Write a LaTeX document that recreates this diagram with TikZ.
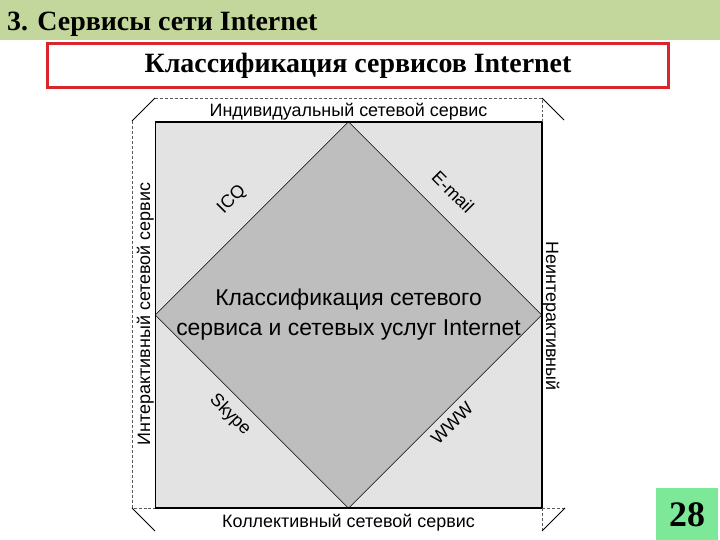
\documentclass[tikz,border=0pt]{standalone}
\usepackage{fontspec}
\setmainfont{Liberation Serif}
\newfontfamily\arialfont{Liberation Sans}
\usetikzlibrary{positioning}

\definecolor{barGreen}{HTML}{C3D69B}
\definecolor{pageGreen}{HTML}{7DE898}
\definecolor{frameRed}{HTML}{D9262C}
\definecolor{lightGray}{HTML}{E3E3E3}
\definecolor{darkGray}{HTML}{BEBEBE}

\begin{document}
\begin{tikzpicture}[x=1bp,y=-1bp,
  lbl/.style={font=\arialfont\fontsize{18}{21}\selectfont,inner sep=0pt},
  flap/.style={densely dashed,black!65,line width=0.6bp},
  cut/.style={black,line width=0.8bp}]
  \useasboundingbox[fill=white] (0,0) rectangle (720,540);
  \fill[barGreen] (0,0) rectangle (720,40);
  \node[anchor=base west,inner sep=0pt,font=\bfseries\fontsize{28}{32}\selectfont] (title) at (7,31) {3. Сервисы сети Internet};
  \node[draw=frameRed,line width=3bp,minimum width=620bp,minimum height=44bp,
        font=\bfseries\fontsize{28}{32}\selectfont] (head) at (358,66) {Классификация сервисов Internet};

  \node[fill=lightGray,minimum size=386bp,inner sep=0pt] (sq) at (348.5,315) {};
  \filldraw[fill=darkGray,draw=black,line width=0.5bp] (sq.north) -- (sq.east) -- (sq.south) -- (sq.west) -- cycle;
  \draw[line width=1.6bp] (sq.north west) rectangle (sq.south east);

  \draw[flap] (155,98) -- (542,98) -- (542,122);
  \draw[flap] (132,121) -- (132,508) -- (155,508);
  \draw[flap] (542,508) -- (565,508);
  \draw[flap] (542,508) -- (542,531);
  \draw[cut] (132,121) -- (155,98);
  \draw[cut] (542,98) -- (564,120);
  \draw[cut] (132,508) -- (155,531);
  \draw[cut] (565,508) -- (542,531);

  \node[lbl] (top) [above=1bp of sq] {Индивидуальный сетевой сервис};
  \node[lbl] (bottom) [below=6bp of sq] {Коллективный сетевой сервис};
  \node[lbl,rotate=90,anchor=base] (left) at (150,314) {Интерактивный сетевой сервис};
  \node[lbl,rotate=-90,anchor=base] (right) at (546,316) {Неинтерактивный};

  \node[align=center,inner sep=0pt,font=\arialfont\fontsize{23}{30}\selectfont] (core) at (sq.center) {Классификация сетевого\\сервиса и сетевых услуг Internet};

  \node[lbl,rotate=45] (icq) at (232,200) {ICQ};
  \node[lbl,rotate=-45] (mail) at (453,192) {E-mail};
  \node[lbl,rotate=-45] (skype) at (230,415) {Skype};
  \node[lbl,rotate=45] (www) at (452,423) {WWW};

  \node[fill=pageGreen,minimum width=62bp,minimum height=54bp,inner sep=0pt,
        font=\bfseries\fontsize{36}{40}\selectfont] (page) at (687,515) {28};
\end{tikzpicture}
\end{document}
